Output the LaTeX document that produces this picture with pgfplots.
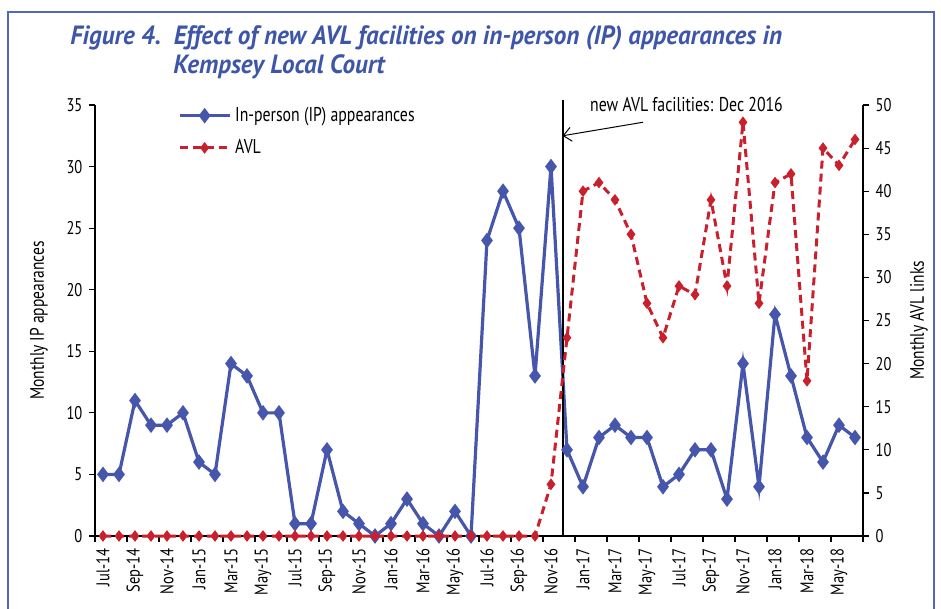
\documentclass[border=0pt]{standalone}
\usepackage{fontspec}
\setmainfont{PT Sans}[FakeStretch=0.79]
\newfontfamily\titlefont{PT Sans}[FakeStretch=0.95]
\usepackage{pgfplots}
\usepackage{pgfplotstable}
\pgfplotsset{compat=1.18}
\usetikzlibrary{arrows.meta}
\definecolor{ipblue}{RGB}{70,86,170}
\definecolor{avlred}{RGB}{200,32,44}
\definecolor{titleblue}{RGB}{62,86,168}
\definecolor{frameblue}{RGB}{84,104,182}

\pgfplotstableread{
idx ip avl
0 5 0
1 5 0
2 11 0
3 9 0
4 9 0
5 10 0
6 6 0
7 5 0
8 14 0
9 13 0
10 10 0
11 10 0
12 1 0
13 1 0
14 7 0
15 2 0
16 1 0
17 0 0
18 1 0
19 3 0
20 1 0
21 0 0
22 2 0
23 0 0
24 24 0
25 28 0
26 25 0
27 13 0
28 30 6
29 7 23
30 4 40
31 8 41
32 9 39
33 8 35
34 8 27
35 4 23
36 5 29
37 7 28
38 7 39
39 3 29
40 14 48
41 4 27
42 18 41
43 13 42
44 8 18
45 6 45
46 9 43
47 8 46
}\datatable

\pgfplotsset{
  ipstyle/.style={ipblue, line width=1.6bp, mark=diamond*, mark size=2.6bp, mark options={solid, fill=ipblue}},
  avlstyle/.style={avlred, line width=1.5bp, dash pattern=on 4bp off 2.5bp, mark=diamond*, mark size=1.7bp, mark options={solid, fill=avlred}},
  common/.style={
    scale only axis, width=384bp, height=215.5bp,
    at={(47.5bp,36.5bp)}, anchor=south west,
    xmin=-0.5, xmax=47.5, clip=false,
    axis line style={line width=0.7bp},
    tick style={line width=0.6bp, black},
    tick align=outside,
    major tick length=2.8bp, minor tick length=2.8bp,
    /pgf/number format/assume math mode=true,
    tick label style={font=\fontsize{9.2bp}{10bp}\selectfont},
    label style={font=\fontsize{9.8bp}{11bp}\selectfont},
  },
}

\begin{document}
\begin{tikzpicture}
\useasboundingbox (0,0) rectangle (470.5bp,304.5bp);
\draw[frameblue, line width=1.2bp] (4bp,-3bp) -- (4bp,298.5bp) -- (467bp,298.5bp) -- (467bp,-3bp);
\node[anchor=base west, inner sep=0, text=titleblue] at (35bp,282bp) {\titlefont\bfseries\itshape\fontsize{13.2bp}{15bp}\selectfont Figure 4.\ \ Effect of new AVL facilities on in-person (IP) appearances in};
\node[anchor=base west, inner sep=0, text=titleblue] at (86.5bp,267.5bp) {\titlefont\bfseries\itshape\fontsize{13.2bp}{15bp}\selectfont Kempsey Local Court};

\begin{axis}[common,
  ymin=0, ymax=35, ytick={0,5,...,35},
  axis x line*=bottom, axis y line*=left,
  xtick={0,2,...,46},
  xticklabels={Jul-14,Sep-14,Nov-14,Jan-15,Mar-15,May-15,Jul-15,Sep-15,Nov-15,Jan-16,Mar-16,May-16,Jul-16,Sep-16,Nov-16,Jan-17,Mar-17,May-17,Jul-17,Sep-17,Nov-17,Jan-18,Mar-18,May-18},
  major x tick style={draw=none},
  minor xtick={-0.5,1.5,...,47.5},
  xticklabel style={rotate=90, anchor=east},
  ylabel={Monthly IP appearances},
  ylabel style={at={(axis description cs:0,0.5)}, anchor=center, yshift=28bp},
  legend style={at={(axis description cs:0.105,1.01)}, anchor=north west, draw=none, fill=none,
    font=\fontsize{10bp}{12bp}\selectfont, row sep=3.5bp, inner sep=1bp},
  legend cell align=left,
  legend image code/.code={\draw[#1,mark repeat=2,mark phase=2] plot coordinates {(0bp,0bp) (12.5bp,0bp) (25bp,0bp)};},
]
\addplot[ipstyle] table[x=idx, y=ip] {\datatable};
\addlegendentry{In-person (IP) appearances}
\addlegendimage{avlstyle}
\addlegendentry{AVL}
\addplot[black, line width=1bp, forget plot] coordinates {(28.72,0) (28.72,35.4)};
\draw[-{Straight Barb[length=4bp, width=7bp]}, line width=0.5bp] (axis cs:33.75,33.6) -- (axis cs:28.72,32.5);
\node[anchor=base, font=\fontsize{10bp}{12bp}\selectfont] at (axis cs:36.47,34.5) {new AVL facilities: Dec 2016};
\end{axis}

\begin{axis}[common,
  ymin=0, ymax=50, ytick={0,5,...,50},
  axis y line*=right, axis x line=none,
  ylabel={Monthly AVL links},
  ylabel style={at={(axis description cs:1,0.5)}, anchor=center, yshift=-28bp},
]
\addplot[avlstyle] table[x=idx, y=avl] {\datatable};
\end{axis}
\end{tikzpicture}
\end{document}
